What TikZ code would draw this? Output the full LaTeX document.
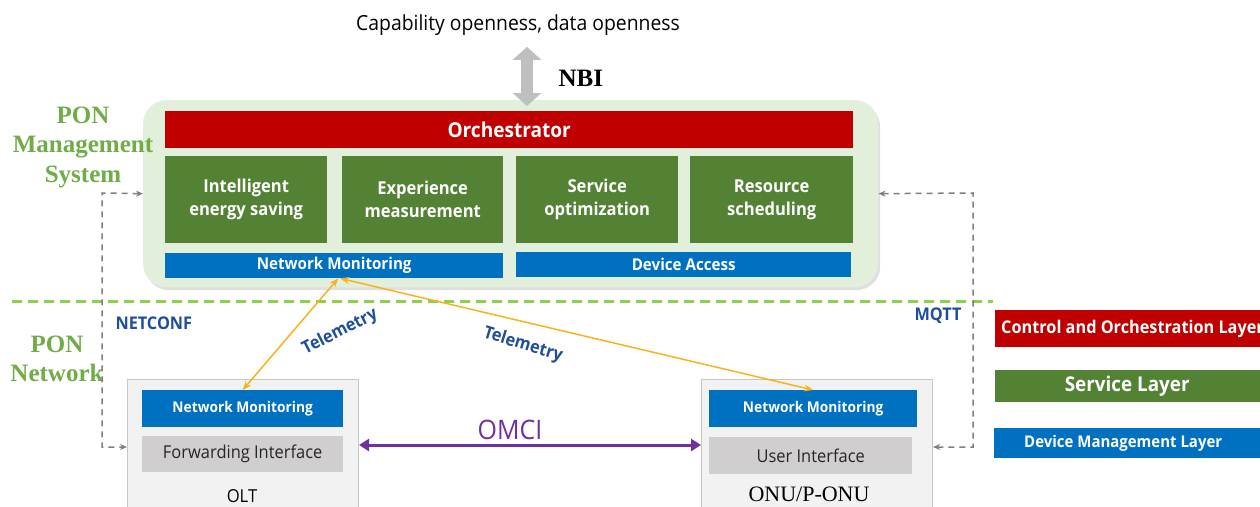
\documentclass[tikz,border=0pt]{standalone}
\usepackage{fontspec}
\setmainfont{Open Sans}[FakeStretch=0.93]
\newfontfamily\serifx{Liberation Serif}
\usetikzlibrary{arrows.meta,shadows}
\definecolor{cred}{HTML}{C00000}
\definecolor{cgreen}{HTML}{548235}
\definecolor{cblue}{HTML}{0070C0}
\definecolor{cpale}{HTML}{E2EFDA}
\definecolor{clab}{HTML}{70AD47}
\definecolor{cdash}{HTML}{8FCF4A}
\definecolor{cgray}{HTML}{7F7F7F}
\definecolor{cnavy}{HTML}{1F4E9A}
\definecolor{cpurple}{HTML}{7030A0}
\definecolor{corange}{HTML}{F8B31C}
\definecolor{cbox}{HTML}{D0CECE}
\definecolor{couter}{HTML}{F2F2F2}
\newcommand{\fsz}[1]{\fontsize{#1}{1.2\dimexpr#1pt\relax}\selectfont}
\tikzset{
  blk/.style={anchor=north west, inner sep=0pt, align=center, text=white, font=\bfseries\fontsize{17.8}{23}\selectfont},
  redbar/.style={blk, fill=cred},
  greenbox/.style={blk, fill=cgreen},
  bluebar/.style={blk, fill=cblue, font=\bfseries\fontsize{16.3}{19}\selectfont},
  graybox/.style={anchor=north west, inner sep=0pt, fill=cbox, text=black!85, font=\fontsize{17.7}{21}\selectfont},
  outer/.style={anchor=north west, inner sep=0pt, fill=couter, draw=black!22, line width=1pt},
  plab/.style={text=clab, align=center, font=\serifx\bfseries\fontsize{25}{29.5}\selectfont},
  proto/.style={text=cnavy, font=\bfseries\fontsize{17.5}{20}\selectfont},
  gdash/.style={draw=cgray, line width=1.5pt, dash pattern=on 6pt off 5pt, {Stealth[length=7pt,width=6pt]}-{Stealth[length=7pt,width=6pt]}},
  tele/.style={draw=corange, line width=1.5pt, {Stealth[length=9pt,width=7pt]}-{Stealth[length=9pt,width=7pt]}},
}
\begin{document}
\begin{tikzpicture}[x=1pt,y=-1pt]
\clip (0,0) rectangle (1260,506);
\fill[white] (0,0) rectangle (1260,506);
% title and NBI
\node[font=\fontsize{20.8}{24}\selectfont] (cap) at (518,25) {Capability openness, data openness};
\node[anchor=west, font=\serifx\bfseries\fontsize{25}{29}\selectfont] (nbi) at (555,78) {NBI};
% main box
\node[anchor=north west, inner sep=0pt, minimum width=735pt, minimum height=187pt, fill=cpale, draw=black!8, rounded corners=24pt, drop shadow={opacity=0.25, shadow xshift=2pt, shadow yshift=-3pt}] (main) at (143,100) {};
\draw[line width=12pt, draw=black!25, {Triangle[width=28pt,length=13pt]}-{Triangle[width=28pt,length=13pt]}] (cap.south -| 527,0) ++(0,8) -- ([yshift=-6pt]main.north -| 527,0);
\node[redbar, minimum width=688pt, minimum height=37pt, font=\bfseries\fontsize{20.5}{24}\selectfont] (orch) at (165,111) {Orchestrator};
\node[greenbox, minimum width=162pt, minimum height=87pt] (g1) at (165,156) {Intelligent\\energy saving};
\node[greenbox, minimum width=161pt, minimum height=87pt] (g2) at (342,156) {Experience\\measurement};
\node[greenbox, minimum width=162pt, minimum height=87pt] (g3) at (516,156) {Service\\optimization};
\node[greenbox, minimum width=163pt, minimum height=87pt] (g4) at (690,156) {Resource\\scheduling};
\node[bluebar, minimum width=338pt, minimum height=25pt] (nm) at (165,253) {Network Monitoring};
\node[bluebar, minimum width=335pt, minimum height=25pt] (da) at (516,252) {Device Access};
% side labels
\node[plab] (pms) at (83,147) {PON\\Management\\System};
\node[plab] (pn) at (57,359) {PON\\Network};
% divider
\draw[cdash, line width=3pt, dash pattern=on 10pt off 6pt] (12,301) -- (993,301);
% OLT
\node[outer, minimum width=231pt, minimum height=150pt] (olt) at (127,379) {};
\node[bluebar, minimum width=201pt, minimum height=37pt, font=\bfseries\fontsize{14.8}{18}\selectfont] (olnm) at (142,390) {Network Monitoring};
\node[graybox, minimum width=201pt, minimum height=36pt] (fwd) at (142,436) {Forwarding Interface};
\node[font=\fontsize{17.9}{21}\selectfont] (oltl) at (242,496) {OLT};
% ONU
\node[outer, minimum width=231pt, minimum height=150pt] (onu) at (701,379) {};
\node[bluebar, minimum width=208pt, minimum height=37pt, font=\bfseries\fontsize{14.8}{18}\selectfont] (onnm) at (709,390) {Network Monitoring};
\node[graybox, minimum width=203pt, minimum height=37pt] (ui) at (709,437) {User Interface};
\node[font=\serifx\fontsize{22}{26}\selectfont] (onul) at (809,494) {ONU/P-ONU};
% dashed management connectors
\coordinate (lin) at (olt.west |- 0,447);
\coordinate (rin) at (onu.east |- 0,447);
\draw[gdash] (main.west) -- (102,193) -- (102,447) -- (lin);
\draw[gdash] (main.east) -- (973,193) -- (973,447) -- (rin);
\node[proto, anchor=west] (nc) at (112,323) {NETCONF};
\node[proto, anchor=west] (mq) at (911,316) {MQTT};
% telemetry
\draw[tele] ([xshift=4pt]nm.south) -- (olnm.north);
\draw[tele] ([xshift=6pt]nm.south) -- (onnm.north);
\node[proto, rotate=27] (t1) at (340,332) {Telemetry};
\node[proto, rotate=-17] (t2) at (523,345) {Telemetry};
% OMCI
\coordinate (omL) at (olt.east |- 0,445);
\coordinate (omR) at (onu.west |- 0,445);
\draw[cpurple, line width=3pt, {Triangle[width=12pt,length=10pt]}-{Triangle[width=12pt,length=10pt]}] (omL) -- (omR);
\node[text=cpurple, font=\fontsize{26.8}{30}\selectfont] (omci) at (510,430) {OMCI};
% legend
\node[redbar, minimum width=280pt, minimum height=37pt] (lg1) at (995,310) {};
\node[anchor=west, inner sep=0pt, text=white, font=\bfseries\fontsize{17.5}{21}\selectfont] (lg1t) at (1001,328.5) {Control and Orchestration Layer};
\node[greenbox, minimum width=280pt, minimum height=32pt, font=\bfseries\fontsize{20.3}{24}\selectfont] (lg2) at (995,370) {\hspace*{-16pt}Service Layer};
\node[bluebar, minimum width=280pt, minimum height=30pt, font=\bfseries\fontsize{16.1}{19}\selectfont] (lg3) at (994,428) {\hspace*{-22pt}Device Management Layer};
\end{tikzpicture}
\end{document}
